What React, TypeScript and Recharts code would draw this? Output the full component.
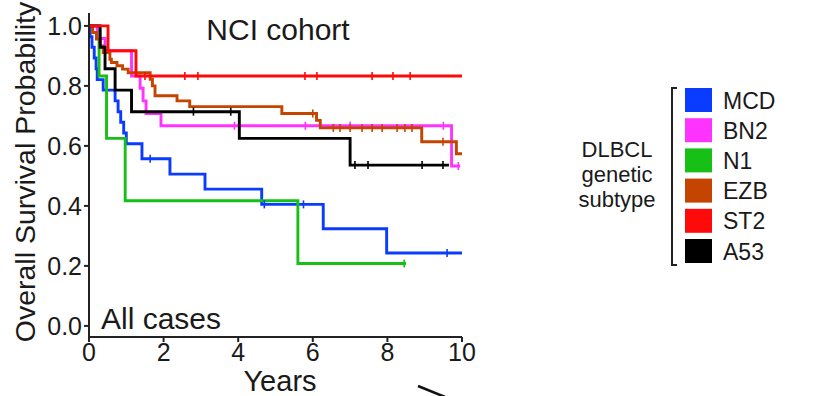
import React from 'react';
import { LineChart, Line, XAxis, YAxis } from 'recharts';

// ---- data ----
const subtypes = ['MCD', 'BN2', 'N1', 'EZB', 'ST2', 'A53'];
const colors = ['#0a3cff', '#ff33ff', '#16c016', '#c44400', '#ff0a0a', '#000000'];

const mcdT = [0, 0.03, 0.08, 0.14, 0.19, 0.22, 0.38, 0.7, 0.78, 0.85, 0.93, 1.0, 1.42, 2.17, 3.11, 4.63, 6.28, 7.98, 10.0];
const mcdS = [1, 0.964, 0.929, 0.893, 0.857, 0.821, 0.786, 0.75, 0.714, 0.679, 0.643, 0.607, 0.557, 0.506, 0.456, 0.405, 0.324, 0.243, 0.243];
const mcdC = [1.64, 4.7, 5.75, 9.6];

const bn2T = [0, 0.22, 0.43, 1.14, 1.37, 1.45, 1.53, 1.93, 9.72, 9.95];
const bn2S = [1, 0.958, 0.917, 0.833, 0.792, 0.75, 0.708, 0.667, 0.533, 0.533];
const bn2C = [3.9, 5.8, 7.0, 9.5, 9.9];

const n1T = [0, 0.27, 0.47, 0.97, 5.6, 8.5];
const n1S = [1, 0.833, 0.625, 0.417, 0.208, 0.208];
const n1C = [8.45];

const ezbT = [0, 0.1, 0.2, 0.3, 0.38, 0.56, 0.6, 0.75, 0.9, 1.05, 1.64, 1.7, 1.77, 2.36, 2.7, 5.17, 6.1, 6.2, 8.92, 9.85, 10.0];
const ezbS = [1, 0.978, 0.956, 0.933, 0.911, 0.889, 0.878, 0.867, 0.856, 0.844, 0.822, 0.8, 0.767, 0.75, 0.731, 0.708, 0.685, 0.66, 0.614, 0.574, 0.574];
const ezbC = [6.0, 6.55, 6.73, 7.0, 7.32, 7.59, 7.86, 8.26, 8.47, 8.66, 9.49];

const st2T = [0, 0.51, 1.26, 10.0];
const st2S = [1, 0.917, 0.833, 0.833];
const st2C = [1.5, 2.57, 2.92, 5.79, 6.11, 7.59, 8.15, 8.61];

const a53T = [0, 0.3, 0.43, 0.7, 1.14, 4.03, 7.0, 9.65];
const a53S = [1, 0.929, 0.857, 0.786, 0.714, 0.625, 0.536, 0.536];
const a53C = [2.8, 3.8, 7.13, 7.48, 8.93, 9.49];

const xTicks = [0, 2, 4, 6, 8, 10];
const yTicks = [0, 0.2, 0.4, 0.6, 0.8, 1.0];
const legendTitle = ['DLBCL', 'genetic', 'subtype'];

type Pt = { t: number; s: number; c: boolean };

function build(times: number[], surv: number[], cens: number[]): Pt[] {
  const pts: Pt[] = times.map((t, i) => ({ t, s: surv[i], c: false }));
  cens.forEach((c) => {
    let s = surv[0];
    for (let i = 0; i < times.length; i++) if (times[i] <= c) s = surv[i];
    pts.push({ t: c, s, c: true });
  });
  pts.sort((a, b) => a.t - b.t);
  return pts;
}

const series = [
  build(mcdT, mcdS, mcdC),
  build(bn2T, bn2S, bn2C),
  build(n1T, n1S, n1C),
  build(ezbT, ezbS, ezbC),
  build(st2T, st2S, st2C),
  build(a53T, a53S, a53C),
];

const drawOrder = [0, 2, 1, 3, 5, 4];
const FONT = '"Liberation Sans", Arial, Helvetica, sans-serif';

function makeDot(color: string) {
  return (props: any) => {
    const { cx, cy, payload, index } = props;
    if (!payload || !payload.c) return <g key={`d${index}`} />;
    return (
      <line key={`d${index}`} x1={cx} x2={cx} y1={cy - 4} y2={cy + 4} stroke={color} strokeWidth={1.6} />
    );
  };
}

export default function App() {
  return (
    <div style={{ position: 'absolute', left: 0, top: 0, width: 814, height: 396, background: '#fff' }}>
      <LineChart
        width={814}
        height={396}
        margin={{ top: 13, right: 352, bottom: 29, left: 29 }}
      >
        <XAxis
          dataKey="t"
          type="number"
          domain={[0, 10]}
          ticks={xTicks}
          allowDataOverflow
          height={30}
          stroke="#222"
          strokeWidth={2}
          tickSize={5}
          tickMargin={1}
          tick={{ fontSize: 25, fill: '#1a1a1a', fontFamily: FONT }}
          interval={0}
        />
        <YAxis
          type="number"
          domain={[-0.037, 1.043]}
          ticks={yTicks}
          allowDataOverflow
          width={60}
          stroke="#222"
          strokeWidth={2}
          tickSize={5}
          tickMargin={2}
          tickFormatter={(v: number) => v.toFixed(1)}
          tick={{ fontSize: 25, fill: '#1a1a1a', fontFamily: FONT }}
          interval={0}
        />
        {drawOrder.map((i) => (
          <Line
            key={subtypes[i]}
            data={series[i]}
            dataKey="s"
            type="stepAfter"
            stroke={colors[i]}
            strokeWidth={2.9}
            dot={makeDot(colors[i])}
            activeDot={false}
            isAnimationActive={false}
          />
        ))}
      </LineChart>
      <svg
        width={814}
        height={396}
        style={{ position: 'absolute', left: 0, top: 0, pointerEvents: 'none' }}
        fontFamily={FONT}
      >
        <text x={278} y={39.5} fontSize={30} textAnchor="middle" fill="#1a1a1a">NCI cohort</text>
        <text x={101} y={328.5} fontSize={30} fill="#1a1a1a">All cases</text>
        <text x={280} y={391} fontSize={29} textAnchor="middle" fill="#1a1a1a">Years</text>
        <text
          transform="translate(35,172) rotate(-90)"
          fontSize={28.5}
          textAnchor="middle"
          fill="#1a1a1a"
        >
          Overall Survival Probability
        </text>
        <line x1={418} y1={386} x2={445} y2={397} stroke="#111" strokeWidth={2.5} />
        {/* legend */}
        {legendTitle.map((w, i) => (
          <text key={w} x={617} y={157 + i * 25} fontSize={22} textAnchor="middle" fill="#1a1a1a">{w}</text>
        ))}
        <path d="M 677 88 L 672 88 L 672 265 L 677 265" fill="none" stroke="#222" strokeWidth={2} />
        {subtypes.map((name, i) => (
          <g key={name}>
            <rect x={685} y={88 + i * 30.2} width={27} height={24} fill={colors[i]} />
            <text x={723} y={108.5 + i * 30.2} fontSize={23} fill="#1a1a1a">{name}</text>
          </g>
        ))}
      </svg>
    </div>
  );
}
